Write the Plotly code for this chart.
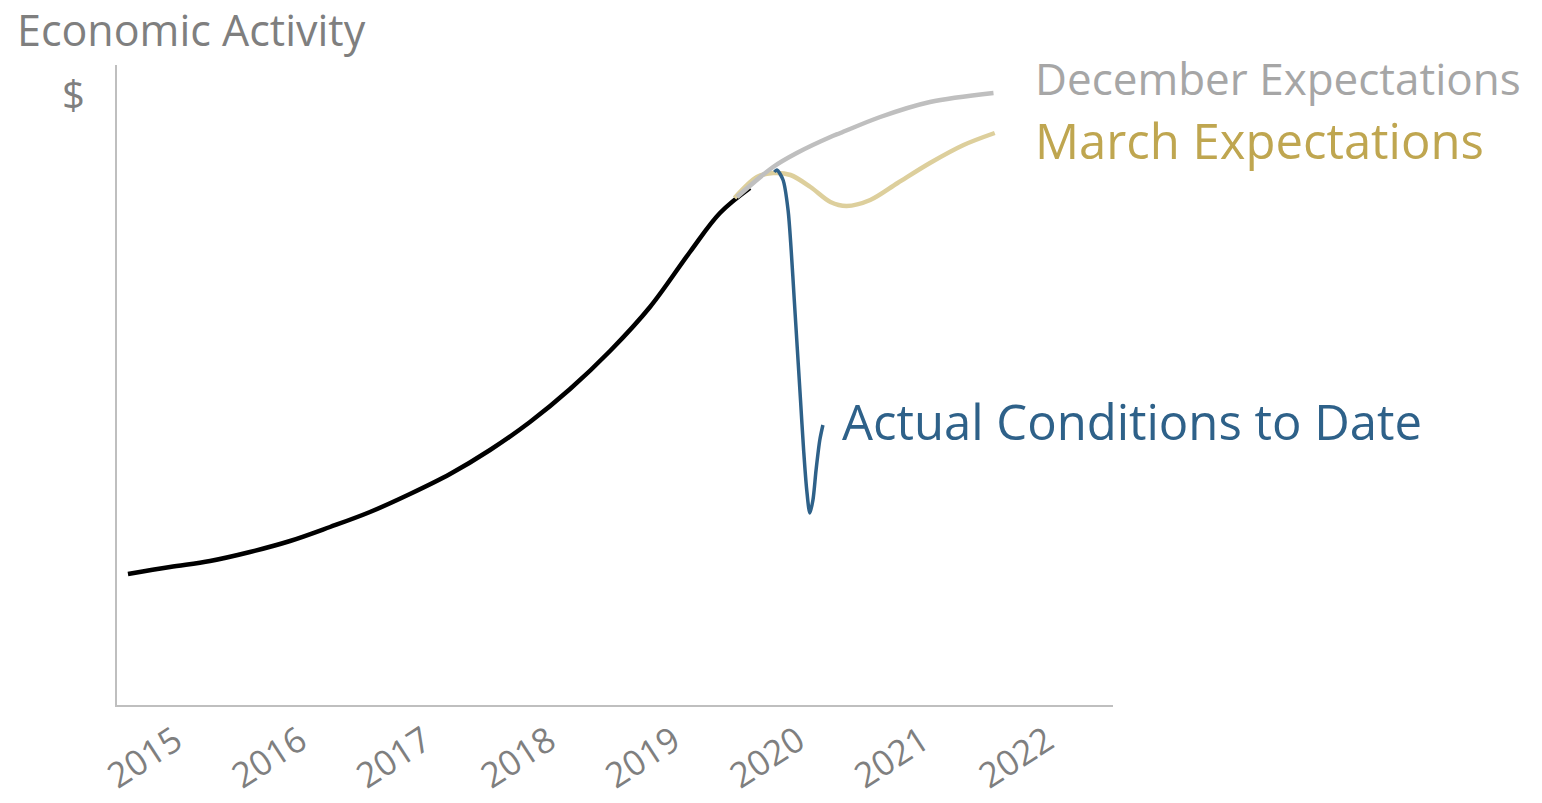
import plotly.graph_objects as go

# ---- data (x = fractional year, y = index of economic activity) ----
hist_x = [2015.088, 2015.426, 2015.747, 2016.068, 2016.390, 2016.711, 2017.032, 2017.353,
          2017.675, 2017.996, 2018.317, 2018.639, 2018.960, 2019.281, 2019.602, 2019.843,
          2020.084]
hist_y = [131, 138, 144, 153, 164, 178, 193, 211, 231, 255, 283, 316, 354, 398, 453, 492, 517]

dec_x = [2019.98, 2020.27, 2020.46, 2020.73, 2020.81, 2021.13, 2021.53, 2022.04]
dec_y = [508, 538, 552, 568, 572, 588, 603, 612]

mar_x = [2019.96, 2020.14, 2020.27, 2020.41, 2020.57, 2020.73, 2020.86, 2021.05,
         2021.27, 2021.53, 2021.80, 2022.05]
mar_y = [507, 528, 532, 530, 518, 503, 499, 505, 522, 542, 560, 572]

act_x = [2020.28, 2020.30, 2020.35, 2020.39, 2020.415, 2020.44, 2020.465, 2020.49,
         2020.515, 2020.54, 2020.565, 2020.59, 2020.615, 2020.645, 2020.67]
act_y = [533, 535, 525, 495, 455, 405, 355, 305, 255, 215, 192, 205, 235, 265, 280]

tick_vals = [2015.5, 2016.5, 2017.5, 2018.5, 2019.5, 2020.5, 2021.5, 2022.5]
tick_text = ["2015", "2016", "2017", "2018", "2019", "2020", "2021", "2022"]

FONT = "Open Sans"
fig = go.Figure()
fig.add_trace(go.Scatter(x=hist_x, y=hist_y, mode="lines",
                         line=dict(color="#000000", width=4.5, shape="spline", smoothing=1.0)))
fig.add_trace(go.Scatter(x=mar_x, y=mar_y, mode="lines",
                         line=dict(color="#DDCF9C", width=4.5, shape="spline", smoothing=0.9)))
fig.add_trace(go.Scatter(x=act_x, y=act_y, mode="lines",
                         line=dict(color="#2E6189", width=3.5, shape="spline", smoothing=0.8)))
fig.add_trace(go.Scatter(x=dec_x, y=dec_y, mode="lines",
                         line=dict(color="#BFBFBF", width=4.5, shape="spline", smoothing=0.9)))

fig.update_layout(
    width=1542, height=803,
    margin=dict(l=117, r=429, t=65, b=98, autoexpand=False),
    paper_bgcolor="white", plot_bgcolor="white",
    showlegend=False,
    font=dict(family=FONT, color="#7F7F7F"),
    xaxis=dict(range=[2015, 2023], showgrid=False, zeroline=False, automargin=False,
               showline=True, linecolor="#BFBFBF", linewidth=1.5,
               tickvals=tick_vals, ticktext=tick_text, tickangle=-33,
               ticklabelstandoff=0, ticklabelshift=-4,
               ticks="", tickfont=dict(size=35, color="#7F7F7F", family=FONT)),
    yaxis=dict(range=[0, 640], showgrid=False, zeroline=False, automargin=False,
               showline=True, linecolor="#BFBFBF", linewidth=1.5,
               showticklabels=False, ticks=""),
    annotations=[
        dict(text="Economic Activity", xref="paper", yref="paper", x=-0.102, y=1.055,
             xanchor="left", yanchor="middle", showarrow=False,
             font=dict(size=43, color="#7F7F7F", family=FONT)),
        dict(text="$", xref="paper", yref="y", x=-0.044, y=612,
             xanchor="center", yanchor="middle", showarrow=False,
             font=dict(size=40, color="#7F7F7F", family=FONT)),
        dict(text="December Expectations", xref="x", yref="y", x=2022.36, y=627,
             xanchor="left", yanchor="middle", showarrow=False,
             font=dict(size=44, color="#A6A6A6", family=FONT)),
        dict(text="March Expectations", xref="x", yref="y", x=2022.36, y=565,
             xanchor="left", yanchor="middle", showarrow=False,
             font=dict(size=49, color="#BFA650", family=FONT)),
        dict(text="Actual Conditions to Date", xref="x", yref="y", x=2020.81, y=284,
             xanchor="left", yanchor="middle", showarrow=False,
             font=dict(size=49, color="#2E6189", family=FONT)),
    ],
)

fig.write_html("out.html")
